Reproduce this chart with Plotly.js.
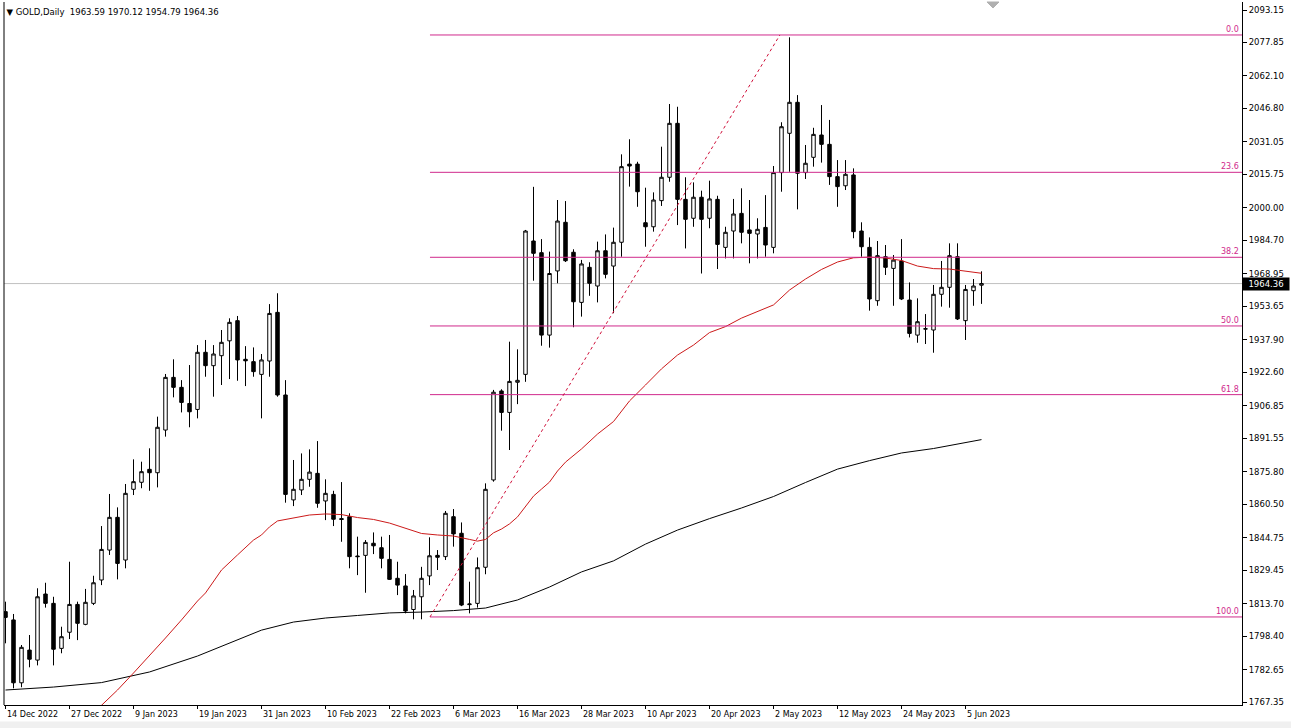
<!DOCTYPE html>
<html>
<head>
<meta charset="utf-8">
<script src="https://cdn.plot.ly/plotly-3.0.1.min.js"></script>
<style>
  html, body { margin: 0; padding: 0; background: #ffffff; }
  #chart { width: 1291px; height: 728px; }
</style>
</head>
<body>
<div id="chart"></div>
<script>
// ---------------- data ----------------
const dateLabels = ['14 Dec 2022','27 Dec 2022','9 Jan 2023','19 Jan 2023','31 Jan 2023','10 Feb 2023',
  '22 Feb 2023','6 Mar 2023','16 Mar 2023','28 Mar 2023','10 Apr 2023','20 Apr 2023','2 May 2023',
  '12 May 2023','24 May 2023','5 Jun 2023'];
const dateLabelBars = [0,8,16,24,32,40,48,56,64,72,80,88,96,104,112,120];

const openP = [1809.9,1806.0,1776.4,1791.8,1787.1,1818.2,1813.8,1792.6,1800.2,1813.3,1803.9,1813.8,1824.8,1838.9,1854.3,1834.2,
  1867.5,1870.8,1876.9,1875.3,1895.4,1920.2,1915.5,1907.9,1905.1,1932.0,1925.7,1930.4,1937.4,1946.9,1928.7,1927.6,
  1921.6,1927.9,1950.8,1911.9,1862.5,1867.2,1872.2,1875.0,1862.0,1865.1,1853.7,1854.6,1836.1,1836.4,1842.1,1840.0,
  1834.5,1825.6,1822.0,1810.9,1816.9,1826.7,1836.4,1835.8,1854.6,1846.8,1813.2,1813.8,1830.8,1871.9,1913.8,1903.7,
  1917.9,1921.6,1984.4,1978.9,1940.1,1970.3,1993.2,1979.1,1955.5,1972.0,1963.2,1979.8,1972.6,1983.8,2020.6,2020.6,
  1993.0,1991.1,2003.4,2014.4,2039.8,2004.0,1995.1,2005.0,1995.1,2004.0,1981.4,1989.1,1997.4,1989.6,1987.7,1990.8,
  1981.4,2016.6,2035.1,2049.7,2016.6,2023.8,2034.3,2029.9,2014.7,2010.4,2015.5,1989.1,1981.4,1956.3,1977.0,1971.5,
  1975.0,1956.6,1940.1,1942.9,1942.5,1959.3,1962.6,1977.0,1946.9,1961.0,1963.59];
const highP = [1814.6,1808.8,1794.2,1798.9,1820.9,1823.5,1816.9,1802.8,1833.4,1814.6,1820.6,1826.8,1850.2,1865.3,1859.0,1870.0,
  1881.6,1880.5,1886.8,1901.7,1921.8,1928.7,1918.9,1926.0,1935.4,1937.8,1935.4,1942.5,1948.0,1949.1,1934.9,1934.3,
  1931.2,1954.7,1959.8,1918.9,1881.3,1884.4,1886.3,1890.2,1872.2,1866.8,1870.9,1856.2,1845.2,1843.6,1847.2,1845.2,
  1846.0,1833.4,1827.6,1820.1,1831.0,1844.9,1838.9,1857.3,1858.2,1851.9,1824.0,1835.4,1870.3,1914.3,1914.6,1937.0,
  1933.4,1989.6,2009.9,1985.3,1979.4,2003.7,2003.2,1980.5,1975.5,1974.4,1984.1,1987.5,1990.7,2025.2,2032.3,2021.7,
  2009.5,2007.3,2028.8,2048.9,2047.6,2014.4,2012.0,2008.1,2012.8,2005.7,1991.1,2004.2,2009.2,2003.7,1995.1,2006.0,
  2019.7,2040.3,2080.3,2053.1,2029.6,2037.7,2048.4,2041.4,2022.5,2022.5,2018.6,1993.2,1986.1,1984.4,1982.5,1977.8,
  1985.3,1964.9,1957.4,1950.0,1963.7,1975.0,1983.3,1983.3,1963.7,1966.5,1970.12];
const lowP = [1795.0,1773.8,1774.3,1783.7,1784.6,1811.8,1784.6,1790.3,1797.0,1796.5,1803.5,1813.0,1822.4,1836.6,1825.1,1830.3,
  1864.8,1868.0,1866.8,1868.4,1892.3,1910.8,1903.7,1896.7,1900.9,1920.5,1911.1,1916.6,1919.4,1918.6,1916.1,1920.5,
  1900.9,1920.5,1911.1,1861.2,1859.6,1864.8,1868.7,1858.8,1853.0,1850.2,1842.8,1830.3,1827.1,1818.8,1837.0,1830.3,
  1824.8,1817.7,1809.1,1806.3,1806.3,1822.4,1829.5,1834.2,1840.5,1812.5,1809.1,1811.8,1827.5,1871.1,1895.1,1886.0,
  1907.6,1918.1,1965.7,1935.1,1934.2,1964.5,1974.5,1943.8,1948.8,1958.6,1955.5,1966.8,1950.4,1977.0,2010.0,2000.5,
  1981.7,1988.8,2000.9,2012.3,1991.9,1980.9,1991.1,1969.1,1990.4,1971.2,1976.2,1976.2,1983.3,1973.9,1976.2,1977.0,
  1978.6,2007.6,2017.0,1999.3,2013.6,2019.4,2021.3,2010.8,2000.5,2008.4,1985.7,1977.0,1951.6,1953.9,1968.4,1953.9,
  1956.6,1939.0,1936.5,1935.9,1931.8,1953.5,1953.0,1947.2,1937.8,1953.9,1954.79];
const closeP = [1807.2,1776.4,1793.1,1787.5,1816.9,1813.8,1792.2,1798.1,1813.3,1804.4,1814.3,1823.5,1839.2,1854.3,1832.6,1865.6,
  1871.1,1875.8,1875.3,1896.7,1920.2,1915.5,1908.4,1904.0,1932.0,1925.7,1931.2,1936.7,1946.1,1928.4,1928.0,1922.9,
  1928.4,1950.3,1911.9,1865.1,1867.5,1872.2,1875.6,1860.9,1865.6,1853.4,1853.3,1835.8,1835.8,1842.5,1840.9,1835.0,
  1825.1,1822.4,1810.2,1817.3,1825.6,1836.2,1835.5,1856.2,1846.5,1813.0,1813.5,1830.6,1867.5,1913.2,1903.7,1918.3,
  1918.8,1989.1,1978.6,1940.1,1969.1,1993.8,1975.1,1955.8,1973.6,1964.5,1979.8,1968.7,1983.8,2019.4,2019.7,2007.6,
  1991.1,2003.7,2014.4,2039.8,2004.0,1994.6,2005.0,1994.6,2004.2,1982.8,1988.5,1997.1,1988.5,1988.0,1989.9,1982.5,
  2016.6,2038.2,2049.7,2016.3,2021.0,2034.6,2029.9,2014.7,2010.0,2015.8,1988.8,1981.7,1957.1,1977.5,1972.0,1975.4,
  1957.1,1940.9,1946.4,1943.1,1959.3,1962.6,1977.5,1947.7,1961.6,1963.2,1964.36];

// moving averages (bar index, value)
const redMaBars = [11,14,16,18,20,22,24,25,27,29,30,31,32,33,34,36,38,40,42,44,46,48,50,52,54,56,58,59,60,61,62,63,64,65,
  66,67,68,69,70,72,74,76,78,80,82,84,86,88,90,92,94,96,98,100,102,104,106,108,110,112,114,116,118,120,122];
const redMaVals = [1762.2,1773.0,1781.0,1789.0,1797.5,1806.0,1814.9,1818.7,1829.5,1836.6,1840.3,1843.6,1846.0,1849.8,1852.6,
  1854.0,1855.4,1855.9,1855.6,1854.2,1853.3,1851.6,1849.3,1846.7,1846.0,1845.5,1843.9,1843.1,1843.9,1847.0,1848.8,1851.2,
  1854.5,1859.4,1864.3,1867.6,1870.9,1876.1,1880.3,1886.5,1893.5,1899.4,1909.1,1916.6,1924.2,1930.7,1935.4,1941.3,1944.1,
  1948.1,1951.2,1954.3,1961.3,1966.5,1971.0,1974.5,1976.5,1976.8,1976.4,1975.2,1972.6,1971.4,1971.2,1970.3,1969.2];
const blackMaBars = [0,6,12,18,24,28,32,36,40,44,48,52,56,60,62,64,68,72,76,80,84,88,92,96,100,104,108,112,116,120,122];
const blackMaVals = [1773.0,1774.4,1776.5,1781.5,1789.0,1795.1,1801.2,1805.0,1806.9,1808.1,1809.3,1809.7,1810.4,1811.6,
  1813.5,1815.4,1821.5,1828.6,1833.8,1841.7,1848.3,1853.7,1858.7,1864.1,1870.7,1877.0,1881.0,1884.6,1886.7,1889.3,1890.9];

// price scale labels
const priceTicks = ['2093.15','2077.85','2062.10','2046.80','2031.05','2015.75','2000.00','1984.70','1968.95','1953.65',
  '1937.90','1922.60','1906.85','1891.55','1875.80','1860.50','1844.75','1829.45','1813.70','1798.40','1782.65','1767.35'];

// fibonacci retracement
const fibLevels = [0, 23.6, 38.2, 50, 61.8, 100];
const fibHigh = 2081.4, fibLow = 1807.4;
const fibStartBar = 53.06, fibEndBar = 96.8;

const lastPrice = 1964.36;
const titleText = '▼ GOLD,Daily  1963.59 1970.12 1954.79 1964.36';

// ---------------- chart ----------------
const bars = openP.map((_, i) => i);
const xRange = [-0.1875, 154.5625];
const yRange = [1765.95, 2096.92];
const FONT = 'DejaVu Sans, Verdana, sans-serif';
const fibColor = '#d02a8c';

const traces = [
  {
    type: 'candlestick', x: bars, open: openP, high: highP, low: lowP, close: closeP,
    increasing: { line: { color: '#000000', width: 1 }, fillcolor: '#ffffff' },
    decreasing: { line: { color: '#000000', width: 1 }, fillcolor: '#000000' },
    whiskerwidth: 0, hoverinfo: 'skip', showlegend: false
  },
  { type: 'scatter', mode: 'lines', x: blackMaBars, y: blackMaVals,
    line: { color: '#000000', width: 1 }, hoverinfo: 'skip', showlegend: false },
  { type: 'scatter', mode: 'lines', x: redMaBars, y: redMaVals,
    line: { color: '#cc1a1a', width: 1 }, hoverinfo: 'skip', showlegend: false }
];

const shapes = [];
const annotations = [];

// current price line
shapes.push({ type: 'line', xref: 'paper', x0: 0, x1: 1, yref: 'y', y0: lastPrice, y1: lastPrice,
  line: { color: '#c0c0c0', width: 1 }, layer: 'below' });

// fib levels
fibLevels.forEach(lv => {
  const p = fibHigh - lv / 100 * (fibHigh - fibLow);
  shapes.push({ type: 'line', xref: 'x', x0: fibStartBar, x1: xRange[1], yref: 'y', y0: p, y1: p,
    line: { color: fibColor, width: 1 } });
  annotations.push({ xref: 'paper', x: 1, xanchor: 'right', xshift: -1, yref: 'y', y: p, yanchor: 'bottom',
    yshift: -1, text: lv.toFixed(1), showarrow: false, font: { family: FONT, size: 8, color: fibColor } });
});
// fib trend line
shapes.push({ type: 'line', xref: 'x', yref: 'y', x0: fibStartBar, y0: fibLow, x1: fibEndBar, y1: fibHigh,
  line: { color: '#d0103a', width: 1, dash: 'dot' } });

// frame: left line, chart-shift marker, bottom strip
shapes.push({ type: 'line', xref: 'paper', yref: 'paper', x0: 0, x1: 0, y0: 0, y1: 1,
  line: { color: '#000000', width: 1 } });
shapes.push({ type: 'path', xref: 'paper', yref: 'paper', path: 'M 0.794 1 L 0.8037 1 L 0.7989 0.9915 Z',
  fillcolor: '#b0b0b0', line: { color: '#b0b0b0', width: 1 } });
shapes.push({ type: 'rect', xref: 'paper', yref: 'paper', x0: -0.01, x1: 1.05, y0: -0.0335, y1: -0.0235,
  fillcolor: '#f0f0f0', line: { width: 0 }, layer: 'below' });

// date labels (left-aligned at the bar like MT4)
dateLabels.forEach((t, k) => {
  annotations.push({ xref: 'x', x: dateLabelBars[k], xanchor: 'left', xshift: -1, yref: 'paper', y: 0,
    yanchor: 'top', yshift: -3, text: t, showarrow: false, font: { family: FONT, size: 8, color: '#000000' } });
});

// current price box
annotations.push({ xref: 'paper', x: 1, xanchor: 'left', xshift: 0, yref: 'y', y: lastPrice, yanchor: 'middle',
  text: lastPrice.toFixed(2), showarrow: false, bgcolor: '#000000', borderpad: 1, width: 44, align: 'center',
  font: { family: FONT, size: 8.5, color: '#ffffff' } });

const layout = {
  width: 1291, height: 728,
  margin: { l: 4, r: 49, t: 2, b: 23 },
  paper_bgcolor: '#ffffff', plot_bgcolor: '#ffffff',
  showlegend: false,
  boxgap: 0.38,
  title: { text: titleText, x: 0.005, xanchor: 'left', xref: 'container', y: 1 - 12 / 728, yanchor: 'middle', yref: 'container',
    font: { family: FONT, size: 8.5, color: '#000000' } },
  xaxis: {
    type: 'linear', range: xRange, rangeslider: { visible: false },
    showgrid: false, zeroline: false, showline: true, linecolor: '#000000', linewidth: 1,
    tickmode: 'array', tickvals: dateLabelBars, ticks: 'outside', ticklen: 3, tickcolor: '#000000',
    showticklabels: false, fixedrange: true
  },
  yaxis: {
    side: 'right', range: yRange, showgrid: false, zeroline: false,
    showline: true, linecolor: '#000000', linewidth: 1,
    tickmode: 'array', tickvals: priceTicks.map(Number), ticktext: priceTicks,
    ticks: 'outside', ticklen: 4, tickcolor: '#000000',
    tickfont: { family: FONT, size: 8.5, color: '#000000' }, fixedrange: true
  },
  shapes: shapes,
  annotations: annotations
};

Plotly.newPlot('chart', traces, layout, { displayModeBar: false, staticPlot: true });
</script>
</body>
</html>
